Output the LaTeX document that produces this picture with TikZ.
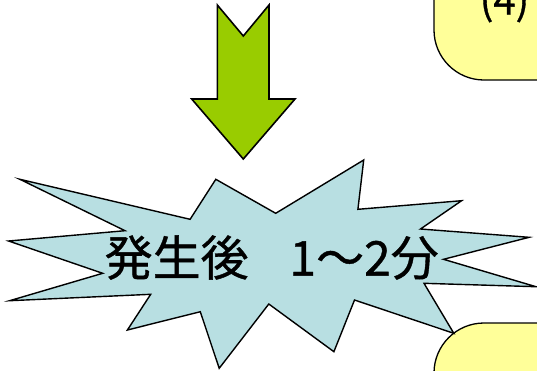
\documentclass[tikz,border=0pt]{standalone}
\usepackage{fontspec}
\newfontfamily\jp[FakeBold=0.8]{Noto Sans CJK JP}
\definecolor{starblue}{HTML}{B8DFE2}
\definecolor{arrowgreen}{HTML}{99CC00}
\definecolor{boxyellow}{HTML}{FFFF99}
\tikzset{
  yellowbox/.style={draw=black, line width=1.3pt, fill=boxyellow, rounded corners=50pt},
  burst/.style={draw=black, line width=1.4pt, fill=starblue, line join=miter},
  bigarrow/.style={draw=black, line width=1.6pt, fill=arrowgreen, line join=miter}
}
\begin{document}
\begin{tikzpicture}[x=1pt,y=-1pt]
\useasboundingbox (0,0) rectangle (537,370);
\clip (0,0) rectangle (537,370);
% yellow boxes
\draw[yellowbox] (434,-120) rectangle (700,80);
\draw[yellowbox] (434,323) rectangle (700,500);
\node[anchor=base, font=\jp\fontsize{40}{44}\selectfont, inner sep=0pt] (n4) at (504.5,14.5) {(4)};
% down arrow
\draw[bigarrow] (217.3,5) -- (243.3,36) -- (269,5) -- (269,99) -- (295,99)
  -- (243.3,159) -- (191.7,99) -- (217.3,99) -- cycle;
% burst
\draw[burst] (19.9,179.3) -- (190.1,219.3) -- (215.8,179.3) -- (275.7,213.3)
  -- (363.7,160) -- (357.9,209.3) -- (461.6,200.7) -- (420.5,229)
  -- (529.1,237.3) -- (443.5,259.3) -- (536,286.7) -- (424,283.3)
  -- (453.8,333.3) -- (354.5,300) -- (333.9,351.7) -- (268.8,304)
  -- (219.2,368.3) -- (200.3,311.7) -- (127.4,330) -- (150.7,294.3)
  -- (9.6,300.7) -- (102.7,273.3) -- (8.6,241) -- (125,230.7) -- cycle;
\node[font=\jp\fontsize{48}{52}\selectfont, inner sep=0pt] (t) at (271.7,257.5) {発生後\hspace{0.85em}1～2分};
\end{tikzpicture}
\end{document}
